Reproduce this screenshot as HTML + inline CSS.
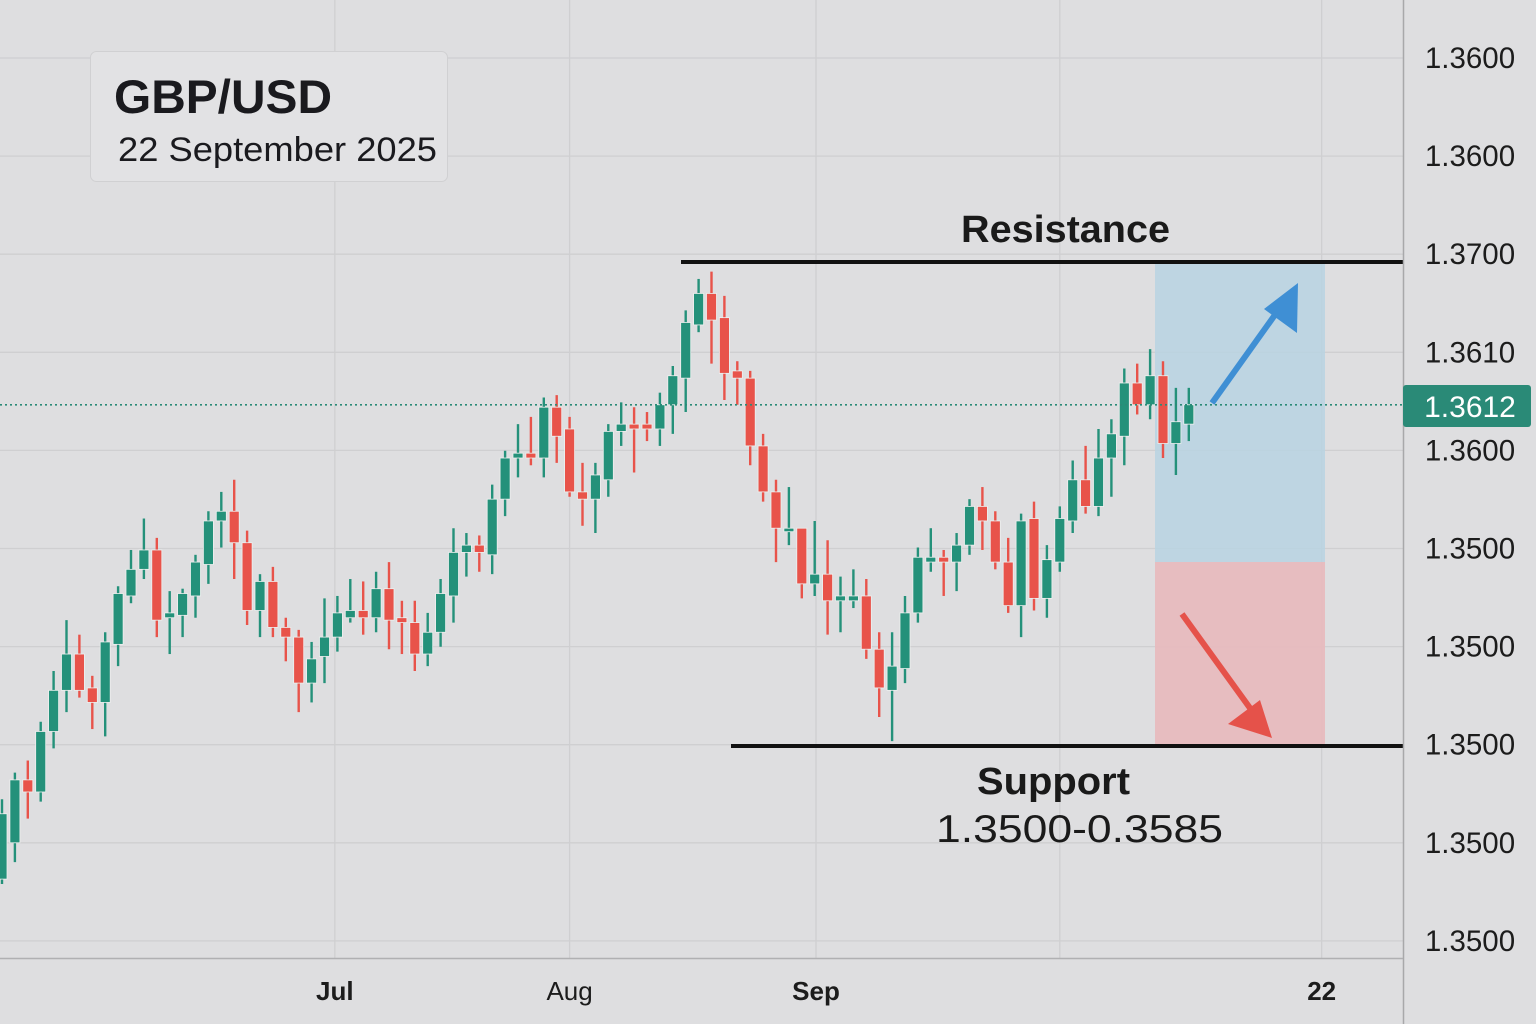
<!DOCTYPE html>
<html><head><meta charset="utf-8"><style>
html,body{margin:0;padding:0;background:#dedee0;}
svg{display:block;font-family:"Liberation Sans",sans-serif;}
</style></head><body>
<svg id="chart" width="1536" height="1024" viewBox="0 0 1536 1024">
<rect x="0" y="0" width="1536" height="1024" fill="#dedee0"/>
<g id="grid"></g>
<rect x="1155" y="262" width="170" height="300" fill="#b8d4e2" opacity="0.85"/>
<rect x="1155" y="562" width="170" height="183" fill="#e8b9bd" opacity="0.9"/>
<g id="candles"></g>
<line id="lastline" x1="0" x2="1403" stroke="#2a8a77" stroke-width="1.6" stroke-dasharray="2,3"/>
<line id="resline" x1="681" x2="1403" stroke="#111" stroke-width="4"/>
<line id="supline" x1="731" x2="1403" stroke="#111" stroke-width="4"/>
<text x="961" y="242" font-size="38" font-weight="bold" fill="#1a1a1a" textLength="209" lengthAdjust="spacingAndGlyphs">Resistance</text>
<text x="977" y="794" font-size="38" font-weight="bold" fill="#1a1a1a" textLength="153" lengthAdjust="spacingAndGlyphs">Support</text>
<text x="936" y="842" font-size="39" fill="#1a1a1a" textLength="287" lengthAdjust="spacingAndGlyphs">1.3500-0.3585</text>
<g>
<line x1="1212" y1="403" x2="1282" y2="305" stroke="#3f8fd4" stroke-width="6"/>
<polygon points="1298,283 1297,333 1264,309" fill="#3f8fd4"/>
</g>
<g>
<line x1="1182" y1="614" x2="1255" y2="715" stroke="#e5524a" stroke-width="6"/>
<polygon points="1272,738 1228,724 1260,700" fill="#e5524a"/>
</g>
<rect x="90.500" y="51.500" width="357" height="130" rx="6" fill="#e2e2e4" stroke="#d0d0d2"/>
<text x="114" y="113" font-size="47" font-weight="bold" fill="#1a1a1e" textLength="218" lengthAdjust="spacingAndGlyphs">GBP/USD</text>
<text x="118" y="161" font-size="34" fill="#1a1a1e" textLength="319" lengthAdjust="spacingAndGlyphs">22 September 2025</text>
<line x1="1403.500" y1="0" x2="1403.500" y2="1024" stroke="#a8a8aa" stroke-width="1.5"/>
<line x1="0" y1="958.500" x2="1403" y2="958.500" stroke="#b0b0b2" stroke-width="1.5"/>
<g id="yticks"></g>
<g id="xticks"></g>
<rect x="1403" y="385" width="128" height="42" rx="3" fill="#2a8a77"/>
<text id="lastlabel" x="1470" y="417" font-size="30" fill="#fff" text-anchor="middle"></text>
</svg>
<script>
const opens=[1.3445,1.3460,1.3486,1.3481,1.3506,1.3523,1.3538,1.3524,1.3518,1.3542,1.3562,1.3573,1.3581,1.3553,1.3554,1.3562,1.3575,1.3593,1.3597,1.3584,1.3556,1.3568,1.3549,1.3545,1.3526,1.3537,1.3545,1.3553,1.3556,1.3553,1.3565,1.3553,1.3551,1.3538,1.3547,1.3562,1.3580,1.3583,1.3579,1.3602,1.3619,1.3621,1.3619,1.3640,1.3631,1.3605,1.3602,1.3610,1.3630,1.3633,1.3633,1.3631,1.3641,1.3652,1.3674,1.3687,1.3677,1.3655,1.3652,1.3624,1.3605,1.3589,1.3590,1.3567,1.3571,1.3560,1.3560,1.3562,1.3540,1.3523,1.3532,1.3555,1.3576,1.3578,1.3576,1.3583,1.3599,1.3593,1.3576,1.3558,1.3594,1.3561,1.3576,1.3593,1.3610,1.3599,1.3619,1.3628,1.3650,1.3641,1.3653,1.3625,1.3633];
const highs=[1.3478,1.3489,1.3494,1.3510,1.3531,1.3552,1.3546,1.3529,1.3547,1.3566,1.3581,1.3594,1.3586,1.3564,1.3565,1.3579,1.3597,1.3605,1.3610,1.3589,1.3571,1.3574,1.3553,1.3548,1.3543,1.3561,1.3562,1.3569,1.3568,1.3572,1.3576,1.3560,1.3560,1.3555,1.3569,1.3590,1.3588,1.3587,1.3608,1.3622,1.3633,1.3636,1.3644,1.3645,1.3636,1.3617,1.3617,1.3633,1.3642,1.3640,1.3638,1.3646,1.3657,1.3680,1.3693,1.3696,1.3686,1.3659,1.3655,1.3629,1.3610,1.3607,1.3590,1.3593,1.3585,1.3570,1.3573,1.3569,1.3547,1.3547,1.3562,1.3582,1.3590,1.3581,1.3588,1.3602,1.3607,1.3597,1.3586,1.3596,1.3601,1.3583,1.3599,1.3618,1.3624,1.3631,1.3635,1.3656,1.3658,1.3664,1.3659,1.3648,1.3648];
const lows=[1.3443,1.3452,1.3470,1.3477,1.3499,1.3514,1.3520,1.3507,1.3504,1.3533,1.3559,1.3569,1.3545,1.3538,1.3545,1.3553,1.3567,1.3582,1.3569,1.3550,1.3545,1.3545,1.3535,1.3514,1.3518,1.3526,1.3539,1.3551,1.3546,1.3547,1.3540,1.3538,1.3531,1.3533,1.3541,1.3551,1.3570,1.3572,1.3571,1.3595,1.3611,1.3616,1.3611,1.3617,1.3603,1.3591,1.3588,1.3603,1.3624,1.3613,1.3626,1.3624,1.3629,1.3638,1.3671,1.3658,1.3643,1.3641,1.3616,1.3601,1.3576,1.3583,1.3561,1.3562,1.3546,1.3547,1.3557,1.3536,1.3512,1.3502,1.3526,1.3551,1.3572,1.3562,1.3564,1.3579,1.3581,1.3573,1.3555,1.3545,1.3556,1.3553,1.3572,1.3588,1.3596,1.3595,1.3603,1.3616,1.3637,1.3635,1.3619,1.3612,1.3626];
const closes=[1.3472,1.3486,1.3481,1.3506,1.3523,1.3538,1.3523,1.3518,1.3543,1.3563,1.3573,1.3581,1.3552,1.3555,1.3563,1.3576,1.3593,1.3597,1.3584,1.3556,1.3568,1.3549,1.3545,1.3526,1.3536,1.3545,1.3555,1.3556,1.3553,1.3565,1.3552,1.3551,1.3538,1.3547,1.3563,1.3580,1.3583,1.3580,1.3602,1.3619,1.3621,1.3619,1.3640,1.3628,1.3605,1.3602,1.3612,1.3630,1.3633,1.3631,1.3631,1.3641,1.3653,1.3675,1.3687,1.3676,1.3654,1.3652,1.3624,1.3605,1.3590,1.3590,1.3567,1.3571,1.3560,1.3562,1.3562,1.3540,1.3524,1.3533,1.3555,1.3578,1.3578,1.3576,1.3583,1.3599,1.3593,1.3576,1.3558,1.3593,1.3561,1.3577,1.3594,1.3610,1.3599,1.3619,1.3629,1.3650,1.3641,1.3653,1.3625,1.3634,1.3641];
const yTickLabels=["1.3600","1.3600","1.3700","1.3610","1.3600","1.3500","1.3500","1.3500","1.3500","1.3500"];
const xTickLabels=["Jul","Aug","Sep","22"];
const xTickBold=[true,false,true,true];
const xTickCandle=[25.8,44,63.1,102.3];
const lastPrice=1.3641;
const lastPriceLabel="1.3612";
const resistanceLevel=1.3700;
const supportLevel=1.3500;

const NS="http://www.w3.org/2000/svg";
function yScale(p){return 746-(p-1.35)*24200;}
function xScale(i){return 2+i*12.9;}
function mk(tag,attrs,parent){const e=document.createElementNS(NS,tag);for(const k in attrs)e.setAttribute(k,attrs[k]);parent.appendChild(e);return e;}
const grid=document.getElementById('grid');
const yt=document.getElementById('yticks');
yTickLabels.forEach((t,i)=>{
  const y=58+i*98.1;
  const gl=mk('line',{x1:0,x2:1403,y1:y,y2:y,stroke:'#cfcfd1','stroke-width':1.3},grid);
  
  
  const tx=mk('text',{x:1470,y:y+10,'font-size':29.5,fill:'#1c1c1c','text-anchor':'middle'},yt);
  tx.textContent=t;
  
  
});
const xt=document.getElementById('xticks');
xTickLabels.forEach((t,i)=>{
  const x=xScale(xTickCandle[i]);
  const gl=mk('line',{x1:x,x2:x,y1:0,y2:958,stroke:'#cfcfd1','stroke-width':1.3},grid);
  
  
  const tx=mk('text',{x:x,y:1000,'font-size':26,fill:'#1c1c1c','text-anchor':'middle','font-weight':xTickBold[i]?'bold':'normal'},xt);
  tx.textContent=t;
  
  
});
{const x=xScale(82);const gl=mk('line',{x1:x,x2:x,y1:0,y2:958,stroke:'#cfcfd1','stroke-width':1.3},grid);

}
const cg=document.getElementById('candles');
opens.forEach((o,i)=>{
  const c=closes[i],h=highs[i],l=lows[i];
  const up=c>=o;const col=up?'#24917a':'#e8534a';
  const x=xScale(i);
  const g=mk('g',{},cg);
  
  
  mk('line',{x1:x,x2:x,y1:yScale(h),y2:yScale(l),stroke:col,'stroke-width':2.4},g);
  const top=yScale(Math.max(o,c)),bot=yScale(Math.min(o,c));
  mk('rect',{x:x-5,y:top,width:10,height:Math.max(3.5,bot-top),fill:col,stroke:'#eef0ef','stroke-width':0.8},g);
});
const ll=document.getElementById('lastline');ll.setAttribute('y1',yScale(lastPrice));ll.setAttribute('y2',yScale(lastPrice));
const rl=document.getElementById('resline');rl.setAttribute('y1',yScale(resistanceLevel));rl.setAttribute('y2',yScale(resistanceLevel));
const sl=document.getElementById('supline');sl.setAttribute('y1',yScale(supportLevel));sl.setAttribute('y2',yScale(supportLevel));
document.getElementById('lastlabel').textContent=lastPriceLabel;
</script>
</body></html>
